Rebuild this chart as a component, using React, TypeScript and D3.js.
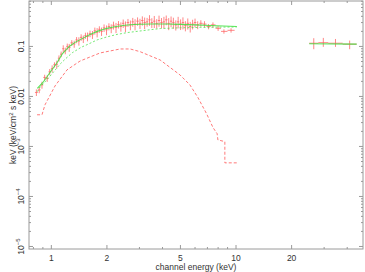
import React, { useEffect, useRef } from 'react';
import * as d3 from 'd3';

const W = 365;
const H = 272;

// axis ranges and ticks
const X_DOMAIN = [0.757, 48.7];
const Y_DOMAIN = [8.9e-6, 0.81];
const X_MAJOR = [1, 2, 5, 10, 20];
const X_LABELS = ['1', '2', '5', '10', '20'];
const X_MINOR = [0.8, 0.9, 3, 4, 6, 7, 8, 9, 30, 40];
const Y_MAJOR = [0.1, 0.01, 1e-3, 1e-4, 1e-5];
const Y_LABELS = [['0.1', ''], ['0.01', ''], ['10', '\u22123'], ['10', '\u22124'], ['10', '\u22125']];

// red data, dense part (bin centre, value, fractional error)
const redE = [0.83, 0.86, 0.89, 0.92, 0.95, 0.98, 1.01, 1.04, 1.07, 1.10, 1.13, 1.16, 1.19, 1.22, 1.25, 1.29, 1.33, 1.37, 1.41, 1.45,
  1.49, 1.53, 1.57, 1.62, 1.67, 1.72, 1.77, 1.82, 1.87, 1.93, 1.99, 2.05, 2.11, 2.17, 2.24, 2.31, 2.38, 2.45, 2.52, 2.60,
  2.68, 2.76, 2.84, 2.93, 3.02, 3.11, 3.20, 3.30, 3.40, 3.50, 3.61, 3.72, 3.83, 3.95, 4.07, 4.19, 4.32, 4.45, 4.58, 4.72,
  4.86, 5.01, 5.16, 5.32, 5.48, 5.65, 5.82, 6.00, 6.20, 6.45, 6.75, 7.10, 7.50, 8.00, 8.60, 9.40];
const redV = [0.012, 0.0135, 0.017, 0.024, 0.023, 0.031, 0.036, 0.043, 0.044, 0.058, 0.07, 0.09, 0.082, 0.1, 0.095, 0.118, 0.112, 0.135, 0.128, 0.152,
  0.141, 0.165, 0.158, 0.18, 0.172, 0.205, 0.192, 0.22, 0.2, 0.235, 0.215, 0.25, 0.23, 0.265, 0.24, 0.275, 0.25, 0.29, 0.255, 0.3,
  0.27, 0.31, 0.28, 0.32, 0.29, 0.33, 0.3, 0.31, 0.34, 0.3, 0.32, 0.29, 0.33, 0.3, 0.31, 0.34, 0.29, 0.32, 0.3, 0.27,
  0.31, 0.28, 0.3, 0.26, 0.29, 0.25, 0.28, 0.3, 0.27, 0.29, 0.28, 0.25, 0.27, 0.23, 0.2, 0.21];
const redErr = [0.15, 0.14, 0.16, 0.13, 0.15, 0.14, 0.16, 0.12, 0.18, 0.14, 0.13, 0.17, 0.15, 0.14, 0.18, 0.13, 0.16, 0.14, 0.19, 0.15,
  0.17, 0.14, 0.2, 0.15, 0.18, 0.16, 0.21, 0.15, 0.19, 0.17, 0.22, 0.16, 0.2, 0.18, 0.23, 0.17, 0.21, 0.19, 0.24, 0.18,
  0.22, 0.2, 0.25, 0.19, 0.23, 0.21, 0.26, 0.2, 0.24, 0.22, 0.27, 0.21, 0.25, 0.23, 0.26, 0.22, 0.27, 0.24, 0.25, 0.23,
  0.26, 0.24, 0.27, 0.23, 0.25, 0.24, 0.22, 0.2, 0.18, 0.15, 0.14, 0.12, 0.12, 0.11, 0.1, 0.1];

// red data, hard band (bin edges, value, error range)
const hiLo = [24.9, 27.9, 31.6, 37.8];
const hiHi = [27.9, 31.6, 37.8, 45.0];
const hiV = [0.116, 0.119, 0.116, 0.111];
const hiMin = [0.088, 0.098, 0.098, 0.088];
const hiMax = [0.146, 0.148, 0.141, 0.131];

// green total model
const totE = [0.84, 0.90, 0.95, 1.00, 1.07, 1.15, 1.25, 1.35, 1.45, 1.6, 1.77, 2.0, 2.2, 2.5, 2.8, 3.4, 4.2, 5.0, 6.0, 7.2, 8.5, 10.1];
const totV = [0.0145, 0.019, 0.025, 0.033, 0.046, 0.072, 0.1, 0.122, 0.14, 0.17, 0.2, 0.23, 0.248, 0.265, 0.274, 0.28, 0.28, 0.276, 0.27, 0.263, 0.256, 0.25];
const totHiE = [24.9, 45.0];
const totHiV = [0.113, 0.111];

// green dashed component
const compGE = [0.84, 0.87, 0.93, 0.98, 1.05, 1.12, 1.19, 1.3, 1.45, 1.6, 1.77, 2.0, 2.27, 2.6, 2.91, 3.4, 3.9, 5.0, 6.4, 8.0, 10.1];
const compGV = [0.0125, 0.0155, 0.02, 0.025, 0.034, 0.045, 0.056, 0.075, 0.096, 0.113, 0.135, 0.155, 0.174, 0.19, 0.2, 0.215, 0.228, 0.236, 0.24, 0.243, 0.245];

// red dashed component
const compRE = [0.837, 0.89, 0.924, 1.047, 1.216, 1.43, 1.835, 2.36, 2.67, 3.02, 3.88, 4.97, 5.63, 6.22, 6.93, 7.5, 7.9, 7.98, 8.7, 8.7, 10.1];
const compRV = [0.0043, 0.0043, 0.0068, 0.0162, 0.034, 0.051, 0.074, 0.089, 0.089, 0.0787, 0.0537, 0.027, 0.017, 0.0095, 0.0045, 0.0024, 0.0018, 0.00135, 0.00125, 0.00047, 0.00047];

const FONT = '"Liberation Sans", Arial, Helvetica, sans-serif';
const AXIS = '#9a9a9a';
const RED = '#ff2a2a';
const GREEN = '#3ee03e';

export default function App() {
  const svgRef = useRef<SVGSVGElement>(null);

  useEffect(() => {
    const svg = d3.select(svgRef.current);
    svg.selectAll('*').remove();

    const x = d3.scaleLog().domain(X_DOMAIN).range([29, 363]);
    const y = d3.scaleLog().domain(Y_DOMAIN).range([249, 1]);
    const [x0, x1] = x.range();
    const [y0, y1] = y.range();

    const line = d3.line<[number, number]>().x(d => x(d[0])).y(d => y(d[1]));

    // frame
    svg.append('rect')
      .attr('x', x0).attr('y', y1).attr('width', x1 - x0).attr('height', y0 - y1)
      .attr('fill', 'none').attr('stroke', AXIS).attr('stroke-width', 1);

    const ticks = svg.append('g').attr('stroke', AXIS).attr('stroke-width', 1);
    const xTick = (v: number, len: number) => {
      ticks.append('line').attr('x1', x(v)).attr('x2', x(v)).attr('y1', y0).attr('y2', y0 - len);
      ticks.append('line').attr('x1', x(v)).attr('x2', x(v)).attr('y1', y1).attr('y2', y1 + len);
    };
    const yTick = (v: number, len: number) => {
      ticks.append('line').attr('y1', y(v)).attr('y2', y(v)).attr('x1', x0).attr('x2', x0 + len);
      ticks.append('line').attr('y1', y(v)).attr('y2', y(v)).attr('x1', x1).attr('x2', x1 - len);
    };
    X_MAJOR.forEach(v => xTick(v, 4));
    X_MINOR.forEach(v => xTick(v, 2));
    Y_MAJOR.forEach(v => yTick(v, 4));
    Y_MAJOR.forEach(dec => {
      for (let k = 2; k <= 9; k++) {
        const v = dec * k;
        if (v > Y_DOMAIN[0] && v < Y_DOMAIN[1]) yTick(v, 2);
      }
    });
    yTick(8e-6 * 1.1, 0); // keeps nothing, bottom decade handled above

    const txt = svg.append('g').attr('font-family', FONT).attr('font-size', 8.5).attr('fill', '#333');
    X_MAJOR.forEach((v, i) => {
      txt.append('text').attr('x', x(v)).attr('y', 261).attr('text-anchor', 'middle').text(X_LABELS[i]);
    });
    Y_MAJOR.forEach((v, i) => {
      const t = txt.append('text')
        .attr('transform', `translate(23.5,${y(v)}) rotate(-90)`)
        .attr('text-anchor', 'middle');
      t.append('tspan').text(Y_LABELS[i][0]);
      if (Y_LABELS[i][1]) t.append('tspan').attr('dy', -3.2).attr('font-size', 6).text(Y_LABELS[i][1]);
    });
    txt.append('text').attr('x', (x0 + x1) / 2).attr('y', 270).attr('text-anchor', 'middle').text('channel energy (keV)');
    const yt = txt.append('text')
      .attr('transform', `translate(15.5,${(y0 + y1) / 2}) rotate(-90)`)
      .attr('text-anchor', 'middle');
    yt.append('tspan').text('keV (keV/cm');
    yt.append('tspan').attr('dy', -3).attr('font-size', 6).text('2');
    yt.append('tspan').attr('dy', 3).text(' s keV)');

    const plot = svg.append('g');

    // red data error bars
    const reds = plot.append('g').attr('stroke', RED).attr('stroke-width', 0.8).attr('opacity', 0.7);
    redE.forEach((e, i) => {
      const lo = i === 0 ? e * e / Math.sqrt(e * redE[1]) : Math.sqrt(e * redE[i - 1]);
      const hi = i === redE.length - 1 ? e * e / Math.sqrt(e * redE[i - 1]) : Math.sqrt(e * redE[i + 1]);
      const v = redV[i];
      reds.append('line').attr('x1', x(lo)).attr('x2', x(hi)).attr('y1', y(v)).attr('y2', y(v));
      reds.append('line').attr('x1', x(e)).attr('x2', x(e))
        .attr('y1', y(v * (1 - redErr[i]))).attr('y2', y(v * (1 + redErr[i])));
    });
    hiV.forEach((v, i) => {
      const c = Math.sqrt(hiLo[i] * hiHi[i]);
      reds.append('line').attr('x1', x(hiLo[i])).attr('x2', x(hiHi[i])).attr('y1', y(v)).attr('y2', y(v));
      reds.append('line').attr('x1', x(c)).attr('x2', x(c)).attr('y1', y(hiMin[i])).attr('y2', y(hiMax[i]));
    });

    // model lines
    const pairs = (a: number[], b: number[]) => a.map((e, i) => [e, b[i]] as [number, number]);
    plot.append('path').attr('d', line(pairs(compGE, compGV)))
      .attr('fill', 'none').attr('stroke', GREEN).attr('stroke-width', 0.9).attr('stroke-dasharray', '2,2').attr('opacity', 0.8);
    plot.append('path').attr('d', line(pairs(compRE, compRV)))
      .attr('fill', 'none').attr('stroke', RED).attr('stroke-width', 0.9).attr('stroke-dasharray', '3,2').attr('opacity', 0.7);
    plot.append('path').attr('d', line(pairs(totE, totV)))
      .attr('fill', 'none').attr('stroke', GREEN).attr('stroke-width', 1.1).attr('opacity', 0.85);
    plot.append('path').attr('d', line(pairs(totHiE, totHiV)))
      .attr('fill', 'none').attr('stroke', GREEN).attr('stroke-width', 1.1).attr('opacity', 0.85);
  }, []);

  return (
    <svg ref={svgRef} width={W} height={H}
      style={{ position: 'absolute', left: 0, top: 0, background: '#fff' }} />
  );
}
